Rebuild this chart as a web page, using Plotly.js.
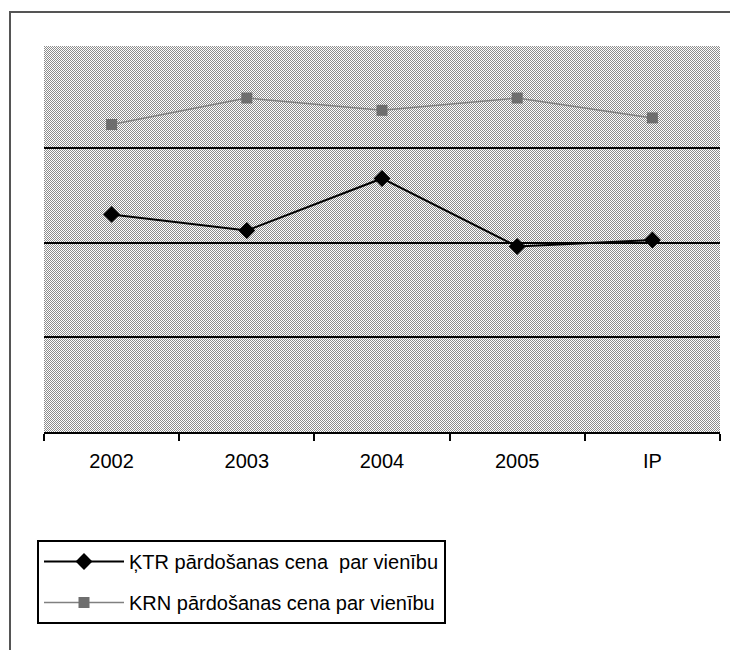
<!DOCTYPE html>
<html>
<head>
<meta charset="utf-8">
<script src="https://cdn.plot.ly/plotly-3.0.1.min.js"></script>
<style>html,body{margin:0;padding:0;background:#fff;}#chart{width:730px;height:650px;}</style>
</head>
<body>
<div id="chart"></div>
<script>
const categories = ["2002", "2003", "2004", "2005", "IP"];
const ktrValues = [2.30, 2.13, 2.68, 1.96, 2.03];
const krnValues = [3.25, 3.53, 3.40, 3.53, 3.32];
const ktrName = "ĶTR pārdošanas cena\u00a0\u00a0par vienību";
const krnName = "KRN pārdošanas cena par vienību";

// dithered background pattern
function makePattern(w, h) {
  const c = document.createElement("canvas");
  c.width = w; c.height = h;
  const ctx = c.getContext("2d");
  ctx.fillStyle = "#ffffff";
  ctx.fillRect(0, 0, w, h);
  ctx.fillStyle = "#8c8c8c";
  for (let y = 0; y < h; y++) {
    for (let x = (y % 2); x < w; x += 2) {
      ctx.fillRect(x, y, 1, 1);
    }
  }
  return c.toDataURL("image/png");
}

const W = 730, H = 650;
const margin = {l: 44, r: 10, t: 46, b: 218};
const pw = W - margin.l - margin.r, ph = H - margin.t - margin.b;

const traces = [
  {
    x: categories, y: ktrValues, name: ktrName, type: "scatter", mode: "lines+markers",
    legendgroup: "a",
    line: {color: "#000000", width: 2},
    marker: {symbol: "diamond", size: 13, color: "#000000"}
  },
  {
    x: categories, y: krnValues, name: krnName, type: "scatter", mode: "lines+markers",
    legendgroup: "b",
    line: {color: "#808080", width: 1.5},
    marker: {symbol: "square", size: 11, color: "#6e6e6e"}
  }
];

const layout = {
  width: W, height: H,
  margin: margin,
  paper_bgcolor: "#ffffff",
  plot_bgcolor: "rgba(0,0,0,0)",
  font: {family: "Liberation Sans, Arial, sans-serif", size: 20, color: "#000"},
  showlegend: true,
  xaxis: {
    type: "category",
    range: [-0.5, 4.5],
    tickson: "boundaries",
    ticks: "outside", ticklen: 7, tickwidth: 2, tickcolor: "#000",
    showline: true, linecolor: "#000", linewidth: 2,
    showgrid: false, zeroline: false,
    ticklabelstandoff: 10,
    tickfont: {size: 20, color: "#000"}
  },
  yaxis: {
    range: [0, 4.08],
    tickvals: [0, 1, 2, 3],
    showticklabels: false,
    showgrid: true, gridcolor: "#000", gridwidth: 2,
    zeroline: false, showline: false, ticks: ""
  },
  legend: {
    x: (37 - margin.l) / pw, y: (432 - 540) / ph,
    xanchor: "left", yanchor: "top",
    bgcolor: "#ffffff", bordercolor: "#000", borderwidth: 2,
    font: {size: 20, color: "#000"},
    itemwidth: 80,
    tracegroupgap: 12,
    traceorder: "grouped"
  },
  images: [{
    source: makePattern(pw, ph),
    xref: "paper", yref: "paper", x: 0, y: 1, sizex: 1, sizey: 1,
    sizing: "stretch", layer: "below", xanchor: "left", yanchor: "top"
  }],
  shapes: [{
    type: "rect", xref: "paper", yref: "paper",
    x0: (10 - margin.l) / pw, x1: 1.2,
    y0: (432 - 12) / ph, y1: -0.7,
    line: {color: "#555", width: 2}, fillcolor: "rgba(0,0,0,0)", layer: "above"
  }]
};

Plotly.newPlot("chart", traces, layout, {displayModeBar: false, staticPlot: true});
</script>
</body>
</html>
